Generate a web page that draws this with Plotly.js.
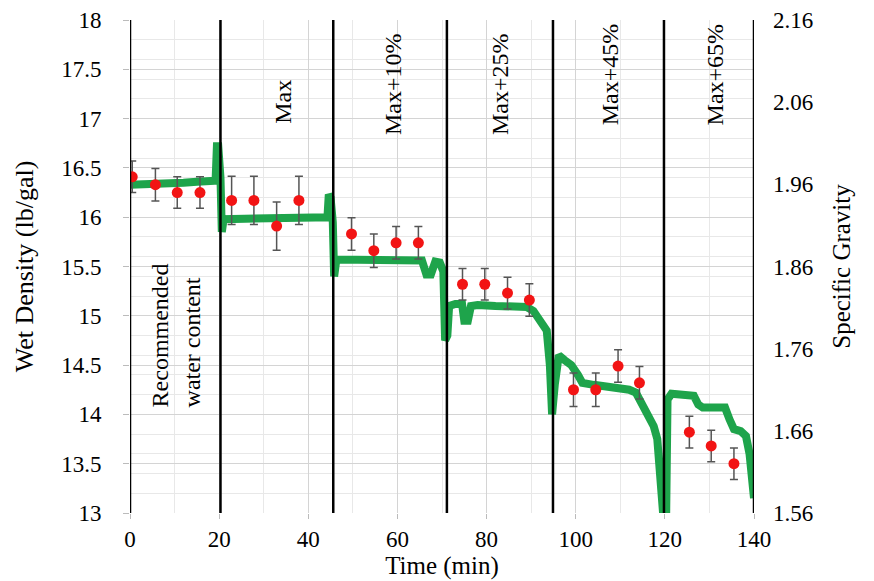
<!DOCTYPE html>
<html>
<head>
<meta charset="utf-8">
<script src="https://cdn.plot.ly/plotly-3.0.1.min.js"></script>
<style>html,body{margin:0;padding:0;background:#fff}#chart{width:874px;height:581px}</style>
</head>
<body>
<div id="chart"></div>
<script>
// Measured wet density (red points) with error bars
const ptTime = [0.5, 5.7, 10.6, 15.7, 22.8, 27.8, 32.9, 37.9, 49.7, 54.7, 59.7, 64.7, 74.6, 79.6, 84.7, 89.6, 99.5, 104.5, 109.5, 114.3, 125.5, 130.4, 135.5];
const ptDensity = [16.41, 16.33, 16.25, 16.25, 16.17, 16.17, 15.91, 16.17, 15.83, 15.66, 15.74, 15.74, 15.32, 15.32, 15.23, 15.16, 14.25, 14.25, 14.49, 14.32, 13.82, 13.68, 13.50];
const ptError = [0.16, 0.165, 0.16, 0.16, 0.245, 0.245, 0.245, 0.245, 0.165, 0.17, 0.165, 0.165, 0.16, 0.16, 0.16, 0.165, 0.17, 0.17, 0.165, 0.165, 0.16, 0.16, 0.16];

// Continuous sensor trace (green)
const sensorTime = [0, 3, 6, 9, 12, 15, 18, 19.2, 19.5, 19.8, 20.3, 20.6, 21, 25, 30, 35, 40, 43, 44.3, 44.6, 45.0, 45.5, 45.8, 46.3, 50, 55, 60, 64, 65.5, 66.5, 67.5, 68.5, 69.5, 70.3, 70.7, 71.2, 71.6, 73, 74.5, 75, 75.8, 76.5, 78, 82, 86, 89, 90.5, 91.5, 92.5, 93.5, 94.2, 94.7, 95.3, 96.2, 97.5, 99, 100.5, 101.5, 104, 108, 112, 113.5, 115, 116.5, 117.5, 118.3, 119.0, 119.6, 120.3, 120.6, 121.5, 124, 126.5, 127.5, 128.5, 131, 133.5, 134.5, 135.5, 137, 138.2, 139, 139.5, 140];
const sensorDensity = [16.33, 16.33, 16.34, 16.35, 16.35, 16.36, 16.36, 16.37, 16.72, 16.72, 16.4, 15.85, 15.98, 15.98, 15.98, 15.98, 15.99, 16.0, 16.0, 16.23, 16.2, 15.95, 15.4, 15.57, 15.57, 15.58, 15.58, 15.58, 15.56, 15.42, 15.42, 15.55, 15.54, 15.45, 14.75, 14.8, 15.1, 15.12, 15.12, 14.95, 14.95, 15.1, 15.11, 15.1, 15.1, 15.09, 15.05, 14.98, 14.93, 14.85, 14.5, 14.0, 14.3, 14.6, 14.55, 14.5, 14.4, 14.32, 14.3, 14.28, 14.25, 14.22, 14.1, 14.0, 13.88, 13.75, 13.4, 13.0, 13.0, 14.15, 14.21, 14.21, 14.19, 14.1, 14.07, 14.07, 14.07, 13.95, 13.85, 13.83, 13.78, 13.6, 13.3, 13.15];

// Stage dividers and labels
const dividerTime = [0, 20.3, 45.6, 71.1, 94.9, 119.8, 140];
const stageLabels = ["Recommended<br>water content", "Max", "Max+10%", "Max+25%", "Max+45%", "Max+65%"];
const stageLabelX = [10.3, 34.3, 59.0, 83.0, 107.7, 131.3];
const stageLabelY = [14.8, 17.17, 17.35, 17.35, 17.45, 17.45];

const leftTicks = [13, 13.5, 14, 14.5, 15, 15.5, 16, 16.5, 17, 17.5, 18];
const rightTicks = [1.56, 1.66, 1.76, 1.86, 1.96, 2.06, 2.16];
const xTicks = [0, 20, 40, 60, 80, 100, 120, 140];

const serif = "Liberation Serif, Times New Roman, serif";

const traces = [
  {
    x: sensorTime, y: sensorDensity, type: "scatter", mode: "lines",
    line: {color: "#1ea44b", width: 8}, hoverinfo: "skip", showlegend: false
  },
  {
    x: ptTime, y: ptDensity, type: "scatter", mode: "markers",
    marker: {color: "#f21414", size: 11},
    error_y: {type: "data", array: ptError, visible: true, color: "#555", thickness: 1.5, width: 4},
    showlegend: false
  },
  {
    x: [0], y: [1.56], yaxis: "y2", type: "scatter", mode: "markers",
    marker: {opacity: 0}, hoverinfo: "skip", showlegend: false
  }
];

const shapes = dividerTime.map(t => ({
  type: "line", xref: "x", yref: "paper", x0: t, x1: t, y0: 0, y1: 1,
  line: {color: "#000", width: 2.5}
}));

const annotations = stageLabels.map((s, i) => ({
  x: stageLabelX[i], y: stageLabelY[i], xref: "x", yref: "y",
  text: s, textangle: -90, showarrow: false, align: "left",
  font: {family: serif, size: 24, color: "#000"}
}));

const layout = {
  width: 874, height: 581,
  margin: {l: 130, r: 120, t: 20, b: 68},
  paper_bgcolor: "#fff", plot_bgcolor: "#fff",
  showlegend: false,
  font: {family: serif, size: 23, color: "#000"},
  xaxis: {
    range: [0, 140], tickvals: xTicks, ticktext: xTicks.map(String),
    showgrid: true, gridcolor: "#d4d4d4", gridwidth: 1,
    minor: {dtick: 10, showgrid: true, gridcolor: "#e8e8e8"},
    zeroline: false, showline: false,
    ticks: "outside", ticklen: 5, tickcolor: "#bbb",
    title: {text: "Time (min)", font: {family: serif, size: 25}, standoff: 2},
    tickfont: {family: serif, size: 23}, automargin: false
  },
  yaxis: {
    range: [13, 18], tickvals: leftTicks, ticktext: leftTicks.map(String),
    showgrid: true, gridcolor: "#d4d4d4", gridwidth: 1,
    minor: {dtick: 0.2, showgrid: true, gridcolor: "#e8e8e8"},
    zeroline: false, showline: false,
    ticks: "outside", ticklen: 6, tickcolor: "#bbb", ticklabelstandoff: 17,
    title: {text: "Wet Density (lb/gal)", font: {family: serif, size: 26}, standoff: 20},
    tickfont: {family: serif, size: 23}, automargin: false
  },
  yaxis2: {
    overlaying: "y", side: "right", range: [1.56, 2.16],
    tickvals: rightTicks, ticktext: rightTicks.map(v => v.toFixed(2)),
    showgrid: false, zeroline: false, showline: false,
    ticks: "", ticklabelstandoff: 18,
    title: {text: "Specific Gravity", font: {family: serif, size: 25}, standoff: 20},
    tickfont: {family: serif, size: 23}, automargin: false
  },
  shapes: shapes,
  annotations: annotations
};

Plotly.newPlot("chart", traces, layout, {displayModeBar: false, staticPlot: true});
</script>
</body>
</html>
